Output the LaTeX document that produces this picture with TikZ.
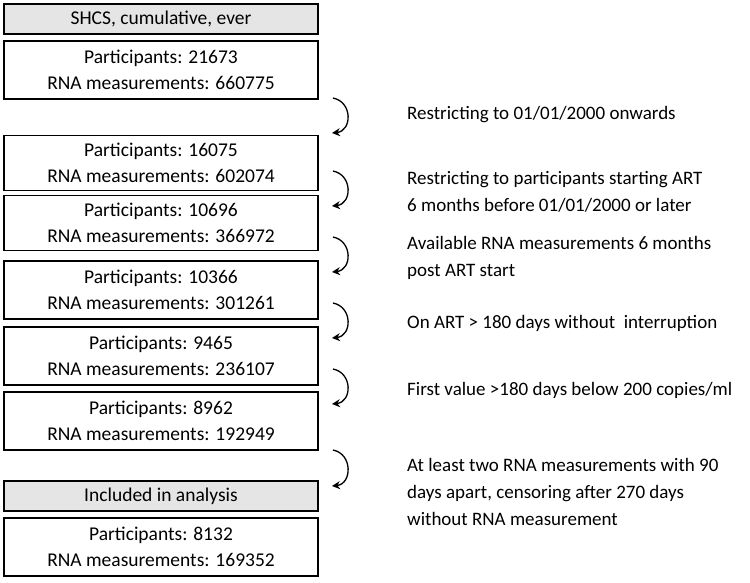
\documentclass[tikz,border=0pt]{standalone}
\usepackage{fontspec}
\setmainfont{Carlito}
\usetikzlibrary{arrows.meta}
\begin{document}
\begin{tikzpicture}[x=1pt,y=-1pt,
  box/.style={draw,line width=1.4pt,minimum width=314pt,align=center,font=\fontsize{19.5}{26}\selectfont,inner sep=0pt},
  hdr/.style={box,fill=gray!20,minimum height=30pt},
  dat/.style={box,minimum height=58pt},
  dats/.style={box,minimum height=55pt},
  lbl/.style={anchor=west,align=left,font=\fontsize{19}{27}\selectfont,inner sep=0pt},
  arr/.style={-{Stealth[length=8pt,width=8pt]},line width=1.3pt}]
\useasboundingbox (0,0) rectangle (750,582);
\node[hdr] (h1) at (161,19) {SHCS, cumulative, ever};
\node[dat] (b1) at (161,70) {Participants: 21673\\RNA measurements: 660775};
\node[dats] (b2) at (161,163) {Participants: 16075\\RNA measurements: 602074};
\node[dats] (b3) at (161,223) {Participants: 10696\\RNA measurements: 366972};
\node[dat] (b4) at (161,290) {Participants: 10366\\RNA measurements: 301261};
\node[dat] (b5) at (161,356) {Participants: 9465\\RNA measurements: 236107};
\node[dat] (b6) at (161,421) {Participants: 8962\\RNA measurements: 192949};
\node[hdr] (h2) at (161,496) {Included in analysis};
\node[dat] (b7) at (161,547) {Participants: 8132\\RNA measurements: 169352};
\coordinate (a1s) at (333,98); \coordinate (a1e) at (332,133);
\coordinate (a2s) at (333,171); \coordinate (a2e) at (332,206);
\coordinate (a3s) at (333,237); \coordinate (a3e) at (332,272);
\coordinate (a4s) at (333,303); \coordinate (a4e) at (332,338);
\coordinate (a5s) at (333,369); \coordinate (a5e) at (332,404);
\coordinate (a6s) at (333,450); \coordinate (a6e) at (332,486);
\foreach \i in {1,...,6}{
  \draw[arr] (a\i s) .. controls +(20,4) and +(20,-2) .. (a\i e);}
\node[lbl] (t1) at (407,115) {Restricting to 01/01/2000 onwards};
\node[lbl] (t2) at (407,192) {Restricting to participants starting ART\\6 months before 01/01/2000 or later};
\node[lbl] (t3) at (407,258) {Available RNA measurements 6 months\\post ART start};
\node[lbl] (t4) at (407,323) {On ART > 180 days without\ \ interruption};
\node[lbl] (t5) at (407,390) {First value >180 days below 200 copies/ml};
\node[lbl] (t6) at (407,492) {At least two RNA measurements with 90\\days apart, censoring after 270 days\\without RNA measurement};
\end{tikzpicture}
\end{document}
